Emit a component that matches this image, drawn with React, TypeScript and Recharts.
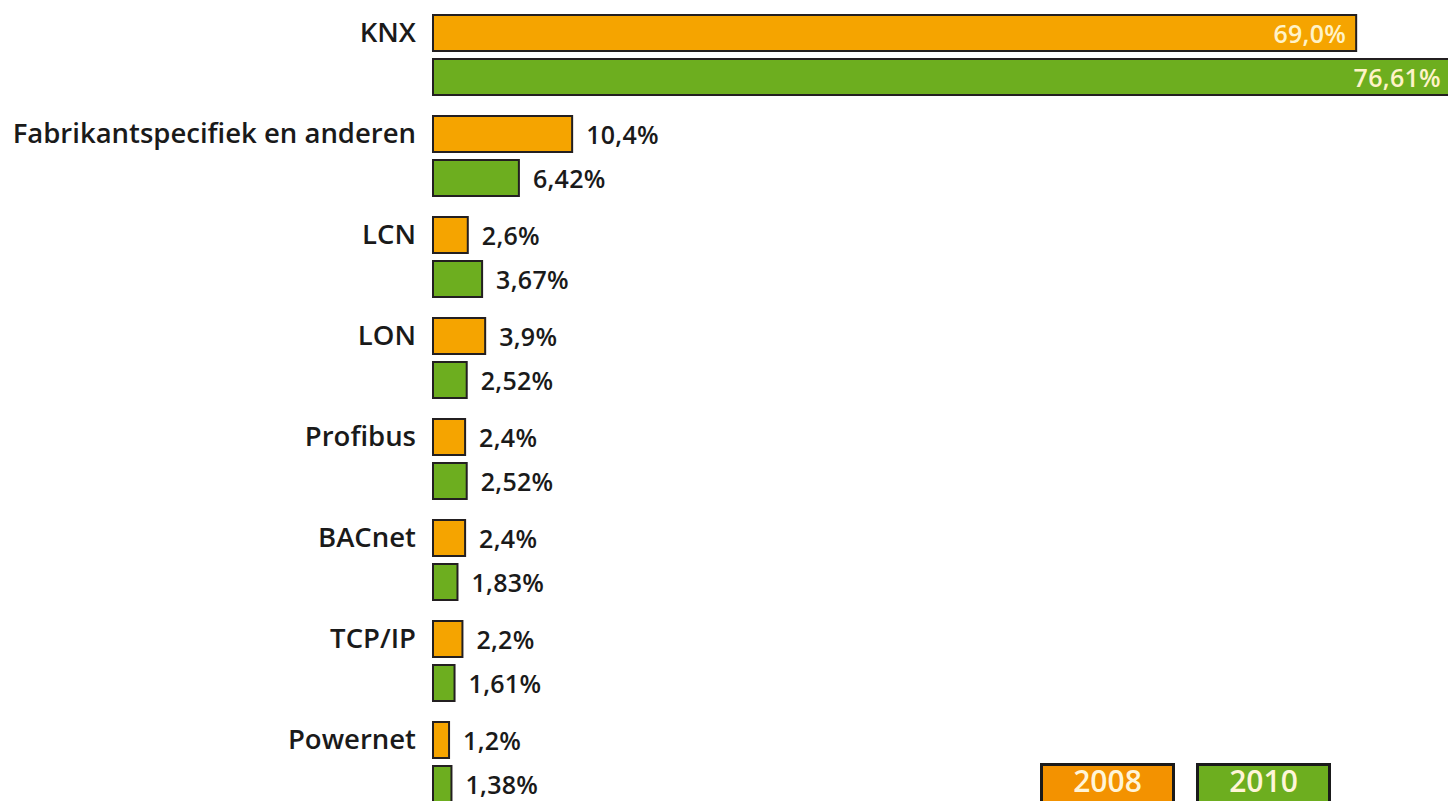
import React from "react";
import { BarChart, Bar, XAxis, YAxis, LabelList } from "recharts";

const categories = [
  "KNX",
  "Fabrikantspecifiek en anderen",
  "LCN",
  "LON",
  "Profibus",
  "BACnet",
  "TCP/IP",
  "Powernet",
];
const values2008 = [69.0, 10.4, 2.6, 3.9, 2.4, 2.4, 2.2, 1.2];
const values2010 = [76.61, 6.42, 3.67, 2.52, 2.52, 1.83, 1.61, 1.38];
const seriesNames = ["2008", "2010"];
const seriesColors = ["#F5A400", "#6DAE1F"];
const legendColors = ["#F39200", "#6DAE1F"];

const data = categories.map((c, i) => ({
  name: c,
  y2008: values2008[i],
  y2010: values2010[i],
}));

const FONT = "'Open Sans', sans-serif";

const fmt = (v: number, d: number) => v.toFixed(d).replace(".", ",") + "%";

const makeLabel = (decimals: number, insidePad: number) => (props: any) => {
  const { x, y, width, height, value } = props;
  const inside = value > 50;
  const cy = y + height / 2;
  return (
    <text
      x={inside ? x + width - insidePad : x + width + 14}
      y={cy}
      textAnchor={inside ? "end" : "start"}
      dominantBaseline="central"
      fill={inside ? "#FFF3C8" : "#1a1a1a"}
      fontFamily={FONT}
      fontWeight={600}
      fontSize={25}
      letterSpacing={0.3}
    >
      {fmt(value, decimals)}
    </text>
  );
};

const CatTick = (props: any) => {
  const { x, y, payload } = props;
  return (
    <text
      x={x - 17}
      y={y - 23}
      textAnchor="end"
      dominantBaseline="central"
      fill="#1a1a1a"
      fontFamily={FONT}
      fontWeight={600}
      fontSize={27.5}
    >
      {payload.value}
    </text>
  );
};

export default function App() {
  return (
    <div
      style={{
        position: "absolute",
        left: 0,
        top: 0,
        width: 1448,
        height: 801,
        overflow: "hidden",
        background: "#ffffff",
      }}
    >
      <BarChart
        width={1460}
        height={816}
        data={data}
        layout="vertical"
        margin={{ top: 4, right: 0, bottom: 4, left: 0 }}
        barSize={36}
        barGap={8}
      >
        <XAxis type="number" domain={[0, 76.76]} hide />
        <YAxis
          type="category"
          dataKey="name"
          width={433}
          axisLine={false}
          tickLine={false}
          tickSize={0}
          tickMargin={0}
          tick={<CatTick />}
          interval={0}
        />
        <Bar
          dataKey="y2008"
          fill={seriesColors[0]}
          stroke="#231F20"
          strokeWidth={2}
          isAnimationActive={false}
        >
          <LabelList dataKey="y2008" content={makeLabel(1, 10)} />
        </Bar>
        <Bar
          dataKey="y2010"
          fill={seriesColors[1]}
          stroke="#231F20"
          strokeWidth={2}
          isAnimationActive={false}
        >
          <LabelList dataKey="y2010" content={makeLabel(2, 17)} />
        </Bar>
      </BarChart>
      {seriesNames.map((n, i) => (
        <div
          key={n}
          style={{
            position: "absolute",
            left: 1040 + i * 156,
            top: 763,
            width: 135,
            height: 50,
            boxSizing: "border-box",
            background: legendColors[i],
            border: "3px solid #1a1a1a",
            color: "#FFF5D8",
            fontFamily: FONT,
            fontWeight: 600,
            fontSize: 30,
            lineHeight: "30px",
            textAlign: "center",
          }}
        >
          {n}
        </div>
      ))}
    </div>
  );
}
